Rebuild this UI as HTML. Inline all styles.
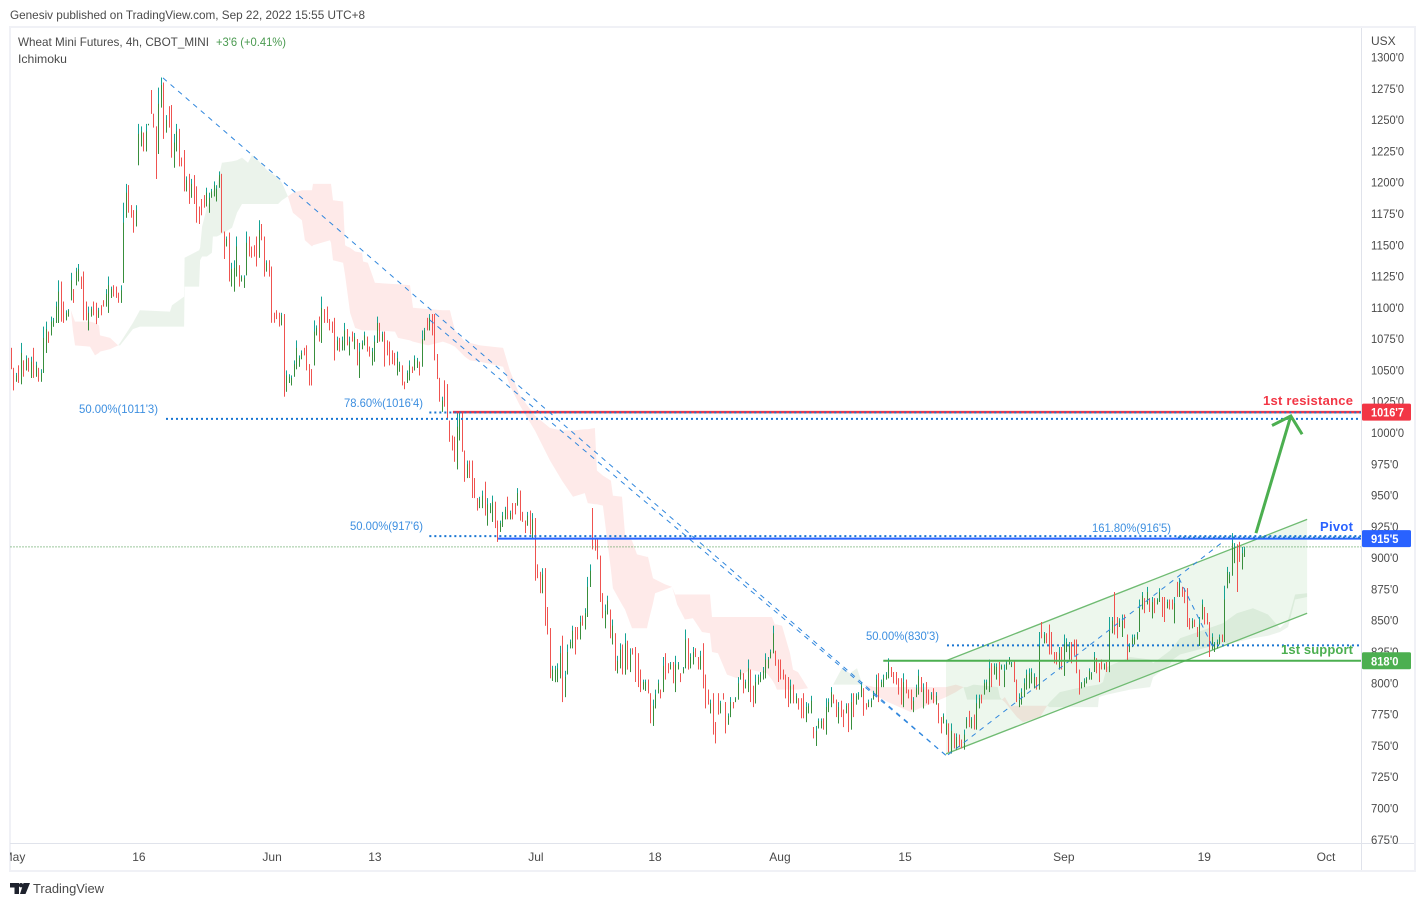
<!DOCTYPE html>
<html lang="en">
<head>
<meta charset="utf-8">
<title>Wheat Mini Futures, 4h, CBOT_MINI</title>
<style>
html,body{margin:0;padding:0;background:#fff;width:1425px;height:906px;overflow:hidden}
svg{display:block;font-family:"Liberation Sans",sans-serif}
</style>
</head>
<body>
<svg id="chart" xmlns="http://www.w3.org/2000/svg" width="1425" height="906" viewBox="0 0 1425 906">
<defs><clipPath id="plot-clip"><rect x="10" y="28" width="1351" height="815"/></clipPath><clipPath id="time-clip"><rect x="10" y="844" width="1351" height="26"/></clipPath></defs>
<rect x="0" y="0" width="1425" height="906" fill="#ffffff"/>
<text x="10" y="19" font-size="12" fill="#4a4a4a" textLength="355" lengthAdjust="spacingAndGlyphs">Genesiv published on TradingView.com, Sep 22, 2022 15:55 UTC+8</text>
<rect x="10" y="27" width="1405" height="844" fill="none" stroke="#f0f1f6" stroke-width="2"/>
<g id="cloud-layer" clip-path="url(#plot-clip)"></g>
<g id="channel-layer" clip-path="url(#plot-clip)"></g>
<g id="bar-layer" clip-path="url(#plot-clip)"></g>
<g id="annotation-layer" clip-path="url(#plot-clip)"></g>
<text x="18" y="46" font-size="12" fill="#4a4a4a" textLength="191" lengthAdjust="spacingAndGlyphs">Wheat Mini Futures, 4h, CBOT_MINI</text>
<text x="216" y="46" font-size="12" fill="#4a9a50" textLength="70" lengthAdjust="spacingAndGlyphs">+3'6 (+0.41%)</text>
<text x="18" y="63" font-size="12" fill="#4a4a4a" textLength="49" lengthAdjust="spacingAndGlyphs">Ichimoku</text>
<g font-size="12" fill="#3d8fe0">
<text x="79" y="413" textLength="79" lengthAdjust="spacingAndGlyphs">50.00%(1011'3)</text>
<text x="344" y="407" textLength="79" lengthAdjust="spacingAndGlyphs">78.60%(1016'4)</text>
<text x="350" y="530" textLength="73" lengthAdjust="spacingAndGlyphs">50.00%(917'6)</text>
<text x="1092" y="532" textLength="79" lengthAdjust="spacingAndGlyphs">161.80%(916'5)</text>
<text x="866" y="640" textLength="73" lengthAdjust="spacingAndGlyphs">50.00%(830'3)</text>
</g>
<text x="1263" y="405" font-size="13" font-weight="700" fill="#f23645" textLength="90" lengthAdjust="spacing">1st resistance</text>
<text x="1320" y="531" font-size="13" font-weight="700" fill="#2962ff" textLength="33" lengthAdjust="spacing">Pivot</text>
<text x="1281" y="654" font-size="13" font-weight="700" fill="#4caf50" textLength="72" lengthAdjust="spacing">1st support</text>
<line x1="1361.5" y1="28" x2="1361.5" y2="870" stroke="#e0e3eb" stroke-width="1"/>
<line x1="10" y1="843.5" x2="1414" y2="843.5" stroke="#e0e3eb" stroke-width="1"/>
<text x="1371" y="45" font-size="12" fill="#4a4a4a">USX</text>
<g id="price-axis"></g>
<g id="time-axis" clip-path="url(#time-clip)"></g>
<g id="price-tags"></g>
<g>
<path d="M10 883h9v11h-4.500v-6.500H10zM23.500 883h6.500l-4.500 11h-5.500z" fill="#1e222d"/>
<circle cx="21" cy="885.200" r="2.200" fill="#1e222d"/>
<text x="33" y="893" font-size="13" fill="#4a4a4a" textLength="71" lengthAdjust="spacingAndGlyphs">TradingView</text>
</g>
</svg>
<script>
const highs = [
1068,1052,1048,1054,1072,1058,1062,1060,1061,1068,
1057,1052,1051,1085,1089,1081,1093,1092,1105,1122,
1121,1105,1098,1099,1128,1115,1132,1135,1125,1129,
1105,1101,1101,1105,1104,1100,1102,1106,1115,1125,
1117,1118,1117,1112,1118,1184,1199,1198,1182,1178,
1182,1247,1245,1240,1247,1247,1274,1255,1245,1276,
1284,1280,1254,1261,1262,1239,1247,1243,1220,1226,
1205,1207,1203,1206,1197,1181,1187,1190,1196,1192,
1195,1201,1198,1209,1207,1161,1157,1160,1136,1138,
1157,1134,1126,1126,1161,1157,1149,1150,1157,1170,
1167,1157,1138,1138,1133,1096,1098,1096,1096,1095,
1050,1047,1046,1058,1074,1062,1066,1068,1070,1055,
1051,1090,1086,1093,1109,1099,1101,1091,1089,1092,
1077,1076,1077,1088,1083,1077,1081,1080,1075,1072,
1074,1081,1077,1069,1068,1078,1093,1088,1081,1081,
1074,1073,1066,1064,1065,1057,1054,1041,1050,1058,
1053,1062,1060,1057,1082,1084,1092,1095,1095,1095,
1063,1044,1029,1042,1039,1010,998,997,1016,1016,
1016,986,978,978,978,964,948,949,954,961,
948,944,950,945,930,930,937,941,949,938,
944,944,956,954,937,930,937,938,936,932,
895,889,892,892,861,844,814,814,816,830,
838,810,831,835,846,845,845,854,854,860,
885,895,940,915,915,902,872,863,870,859,
851,840,822,832,831,840,834,828,828,829,
824,811,803,803,803,792,787,795,803,795,
821,824,816,817,817,822,817,808,813,843,
836,824,829,828,821,826,832,807,795,787,
792,769,792,786,792,785,776,789,785,789,
805,811,808,803,819,811,798,807,807,809,
813,824,821,827,846,826,819,819,811,807,
805,803,799,792,788,788,792,785,784,790,
765,766,772,772,772,788,788,797,791,787,
785,786,779,784,784,792,792,792,793,801,
796,784,787,788,794,807,808,803,807,809,
820,813,809,809,804,804,808,803,795,795,
789,799,811,805,800,801,795,793,796,793,
784,773,776,771,768,768,760,760,759,755,
763,773,778,773,775,791,791,791,803,803,
819,816,816,816,817,815,815,818,821,817,
818,803,792,796,804,811,812,812,808,805,
841,849,841,840,847,841,825,825,829,829,
839,836,833,833,835,835,811,801,804,805,
812,809,825,820,816,819,816,817,853,853,
873,853,852,855,855,839,832,839,839,841,
867,873,868,877,868,869,868,868,876,869,
869,867,867,867,869,881,884,877,876,876,
852,852,851,845,853,867,861,856,849,840,
833,835,839,839,878,893,889,920,912,911,
913,909,909];
const lows = [
1051,1034,1041,1040,1039,1045,1050,1049,1044,1044,
1045,1041,1041,1048,1064,1072,1078,1085,1088,1088,
1089,1088,1090,1093,1106,1104,1118,1121,1115,1090,
1090,1082,1093,1094,1087,1092,1094,1101,1101,1096,
1108,1109,1108,1104,1104,1120,1172,1176,1172,1160,
1165,1214,1229,1225,1225,1246,1255,1244,1203,1223,
1260,1235,1240,1244,1220,1212,1225,1213,1213,1193,
1193,1183,1188,1183,1168,1167,1174,1180,1181,1176,
1188,1189,1185,1196,1160,1139,1149,1121,1117,1113,
1125,1117,1121,1116,1126,1141,1140,1141,1133,1140,
1154,1125,1129,1125,1088,1088,1091,1085,1086,1029,
1033,1040,1038,1045,1051,1053,1059,1062,1050,1038,
1038,1054,1078,1073,1072,1088,1088,1082,1080,1058,
1066,1065,1066,1066,1070,1062,1073,1067,1054,1044,
1067,1070,1065,1061,1054,1057,1072,1073,1073,1053,
1062,1054,1055,1054,1046,1049,1038,1035,1040,1042,
1048,1050,1052,1046,1053,1074,1082,1082,1078,1058,
1043,1025,1017,1021,1011,993,986,977,971,994,
985,961,964,964,948,948,938,940,940,934,
926,936,929,924,913,921,925,931,931,931,
931,935,942,930,929,920,926,919,915,882,
884,872,872,846,839,804,802,801,801,804,
785,789,807,828,828,823,835,835,846,843,
853,877,907,906,899,865,852,844,855,836,
831,810,808,812,807,807,811,809,823,801,
797,793,795,794,792,768,766,780,792,788,
793,803,808,811,800,793,811,801,808,812,
811,812,815,821,811,811,796,780,783,776,
759,752,775,776,787,760,767,773,780,785,
787,803,792,796,793,785,781,784,799,801,
803,804,812,820,824,814,801,803,803,788,
781,784,784,784,779,772,772,769,776,776,
756,750,764,764,763,759,777,781,784,773,
768,773,765,776,761,763,773,783,787,789,
774,779,781,781,787,789,785,797,797,803,
804,805,800,799,791,783,781,792,788,779,
777,789,791,793,780,784,783,787,784,783,
768,760,768,759,745,744,748,747,749,748,
747,764,765,764,763,763,780,784,791,795,
793,797,807,803,798,811,797,811,815,813,
801,785,781,783,789,795,796,800,796,795,
795,836,832,832,823,823,816,815,811,811,
806,825,819,816,822,808,791,796,797,800,
803,803,809,808,801,811,811,809,809,840,
839,836,845,837,844,818,825,829,831,835,
841,859,856,863,857,852,856,863,865,853,
849,860,859,859,848,869,869,869,864,845,
843,844,845,837,830,851,847,847,821,827,
825,828,831,833,833,876,880,886,896,873,
897,891,901];
const closes = [
1052,1035,1046,1041,1064,1046,1059,1050,1057,1045,
1054,1042,1048,1076,1083,1073,1089,1090,1101,1113,
1090,1089,1096,1098,1122,1105,1129,1131,1116,1091,
1091,1096,1099,1095,1088,1098,1095,1102,1111,1118,
1115,1110,1109,1105,1114,1168,1192,1177,1173,1161,
1178,1239,1241,1226,1241,1247,1256,1245,1204,1263,
1278,1236,1250,1245,1221,1232,1241,1214,1214,1194,
1202,1184,1199,1184,1169,1168,1175,1181,1192,1188,
1193,1198,1195,1206,1161,1140,1155,1122,1131,1132,
1149,1118,1125,1124,1152,1142,1141,1142,1134,1162,
1155,1126,1136,1126,1089,1089,1092,1086,1094,1030,
1046,1045,1044,1055,1068,1060,1064,1063,1051,1039,
1039,1081,1084,1074,1100,1089,1089,1083,1081,1059,
1074,1066,1074,1082,1071,1073,1074,1077,1055,1065,
1072,1078,1066,1062,1065,1073,1088,1074,1079,1054,
1063,1055,1056,1055,1060,1055,1039,1036,1048,1054,
1049,1059,1058,1047,1075,1082,1083,1092,1079,1059,
1044,1026,1026,1022,1012,994,987,978,1005,1011,
986,962,975,965,949,949,939,947,950,935,
943,942,945,925,914,928,934,939,932,936,
932,936,952,931,930,921,934,920,931,883,
885,873,887,847,840,805,811,811,812,824,
786,805,825,833,842,824,836,849,847,856,
877,890,915,907,900,866,853,858,866,837,
846,811,818,827,808,832,812,823,824,802,
798,794,801,801,793,769,782,791,800,789,
814,804,809,815,801,815,815,802,812,835,
812,821,825,822,812,822,797,781,784,784,
760,753,776,784,788,761,774,785,781,788,
800,809,793,801,812,786,782,801,805,807,
810,819,819,825,840,815,802,804,804,789,
782,798,785,790,780,773,773,781,782,786,
757,762,770,770,764,781,785,793,785,774,
781,774,766,782,762,785,774,790,791,798,
775,780,785,786,792,803,786,801,804,807,
816,806,801,800,792,784,801,793,789,780,
786,796,806,794,795,785,784,791,785,790,
769,761,774,768,746,762,749,757,750,749,
759,771,766,771,764,784,788,785,800,801,
812,798,814,813,799,814,810,816,820,816,
802,786,789,793,800,807,808,809,805,796,
830,837,839,833,824,824,817,816,824,812,
831,833,830,817,823,809,792,800,802,804,
810,808,821,809,802,812,815,810,842,850,
840,837,850,850,845,819,830,836,837,840,
860,870,857,873,858,865,857,867,873,854,
850,865,860,860,864,870,880,870,865,846,
844,850,846,838,847,863,848,848,822,837,
831,833,837,834,867,889,887,912,908,874,
898,904,907];

const cloudBars = [24.1,24.9,25.7,31.7,33.7,35.3,35.7,39.7,42.9,
43.7,48.8,51.6,63.6,64.4,69.2,69.4,75.2,75.6,76.4,78.3,80.3,80.7,82.3,84.3,88.3,90.3,92.3,94.7,96.3,98.7,102.3,106.7,108.2,110.6,
112.6,116.2,117.4,120.2,120.6,127.4,127.8,128.6,132.6,133.4,134.2,135.4,137.4,140.2,140.6,142.5,145.3,153.3,154.5,159.3,160.5,166.5,172.4,175.2,177.2,181.2,183.2,187.2,196.4,199.1,203.1,209.1,215.1,219.9,224.3,229,230.2,233,233.8,236.2,239.4,240.2,243.8,245,247.8,249.8,253.8,254.2,256.2,257,261,263.8,265,265.8,268.9,272.1,275.7,278.9,279.7,282.1,285.7,289.7,294.8,301.6,303.6,304.8,305.6,307.6,310.8,312,314,318,326.8,
328,331.5,334.7,337.5,339.5,340.3,
344.4,349.9,359,365.9,373,376.9,380,
381.4,384,393.7,394.5,395.3,
396.5,398.5,401.3,403.7,410.5,413.3,
414.4,418.4,425.2,433.6,434,435.6,437.2,446.4,454.4,455.6,462.3,463.5,466.3,483.4,489,495.4,501.4,506.2,509.4,512.2,517];
const spanA = [1098,1082,1070,1069,1062,1064,1065,1067,1070,
1072,1088,1098,1097,1102,1109,1140,1146,1148,1165,1180,1190,1193,1197,1216,1217,1218,1220,1216,1222,1218,1210,1204,1200,1189,
1176,1170,1154,1149,1150,1154,1152,1138,1136,1126,1114,1096,1084,1082,1082,1082,1082,1081,1076,1074,1073,1070,1073,1071,1069,1061,1058,1057,1053,1038,1022,1002,978,962,949,952,944,943,943,942,891,876,863,859,844,844,844,848,864,872,875,877,869,863,851,852,841,840,825,824,807,804,811,808,803,799,795,795,795,795,795,796,797,
799,812,808,812,800,799,
791,785,777,783,789,793,797,
797,799,797,789,787,
785,780,773,769,773,782,
785,793,796,799,799,801,813,821,819,816,826,829,836,848,856,860,855,844,851,871,872];
const spanB = [1098,1093.5,1089,1089,1088,1086,1078,1076,1070,
1070,1083,1085,1085,1085,1085,1117,1117,1138,1141,1141,1144,1157,1157,1159,1164,1176,1183,1183,1183,1183,1183,1183,1186,1189,
1192,1194,1194,1194,1199,1199,1199,1186,1185,1150,1149,1148,1145,1144,1137,1136,1120,1119,1119,1118,1100,1099,1098,1098,1082,1073,1072,1070,1068,1050,1030,1014,1004,1002,1002,1003,1003,1004,970,966,962,950,949,919,914,903,901,901,884,883,879,877,871,871,871,871,871,871,853,853,853,853,853,853,853,847,847,846,824,811,809,796,797,
799,799,799,799,799,799,
797,797,797,797,797,799,797,
787,787,787,787,787,
789,782,782,782,782,782,
781,781,781,781,789,790,791,795,797,805,815,819,823,832,833,836,838,841,845,867,869];

const priceTicks = [1300,1275,1250,1225,1200,1175,1150,1125,1100,1075,1050,1025,1000,975,950,925,900,875,850,825,800,775,750,725,700,675];
const timeTickLabels = ['May','16','Jun','13','Jul','18','Aug','15','Sep','19','Oct'];
const timeTickBars = [1.4,51.2,104.3,145.3,209.5,257,306.8,356.7,420,476,524.5];

const levelNames = ['last-price-line','resistance-line','pivot-line','support-line','fib-level-1011','fib-level-1016','fib-level-917','fib-level-916','fib-level-830'];
const levelPrices = [909,1016.7,915.6,818,1011.3,1016.4,917.6,916.5,830.3];
const levelStartBars = [0,176.4,194.4,348,62,167,167,465.5,373.4];
const levelStyles = ['last','red','blue','green','dot','dot','dot','dot','dot'];

const trendNames = ['fib-trend-main-a','fib-trend-main-b','fib-trend-up','fib-trend-pullback'];
const trendBars1 = [60.8,167.2,373.8,465.9];
const trendPrices1 = [1283.7,1090.3,742.8,884];
const trendBars2 = [373.8,373.8,483.4,479.4];
const trendPrices2 = [741,741,913,829];

const channelBars = [373,517];
const channelUpper = [818,931];
const channelLower = [743.6,856];

const arrowBars = [496.6,510.5,503,515];
const arrowPrices = [920,1013.6,1006,999];

const tagLabels = ["1016'7","915'5","818'0"];
const tagPrices = [1016.7,915.6,818];
const tagColors = ['#f23645','#2962ff','#4caf50'];
const tagNames = ['resistance-price-tag','pivot-price-tag','support-price-tag'];

const NS = 'http://www.w3.org/2000/svg';
const xScale = b => 10.5 + 2.508 * b;
const yScale = p => 433 + (1000 - p) * 1.2516;
function make(tag, attrs, parent) {
  const el = document.createElementNS(NS, tag);
  for (const k in attrs) el.setAttribute(k, attrs[k]);
  parent.appendChild(el);
  return el;
}
const fmtTick = v => v + "'0";

/* Ichimoku cloud: one polygon per run where span A and B keep their order */
const cloudLayer = document.getElementById('cloud-layer');
let runStart = 0, runSign = 0;
function flushRun(a, b, sign) {
  if (b <= a || !sign) return;
  let pts = [];
  for (let i = a; i <= b; i++) pts.push(xScale(cloudBars[i]).toFixed(1) + ',' + yScale(spanA[i]).toFixed(1));
  for (let i = b; i >= a; i--) pts.push(xScale(cloudBars[i]).toFixed(1) + ',' + yScale(spanB[i]).toFixed(1));
  const poly = make('polygon', {points: pts.join(' '), fill: sign > 0 ? '#388e3c' : '#f44336', 'fill-opacity': sign > 0 ? 0.1 : 0.11}, cloudLayer);
  
  
}
for (let i = 0; i < cloudBars.length; i++) {
  const s = Math.sign(spanA[i] - spanB[i]);
  if (s !== 0 && runSign !== 0 && s !== runSign) {
    flushRun(runStart, i - 1, runSign);
    runStart = i - 1;
    runSign = s;
  } else if (s !== 0) {
    runSign = s;
  }
}
flushRun(runStart, cloudBars.length - 1, runSign);

/* Parallel channel */
const channelLayer = document.getElementById('channel-layer');
const channelPts = [
  [channelBars[0], channelUpper[0]], [channelBars[1], channelUpper[1]],
  [channelBars[1], channelLower[1]], [channelBars[0], channelLower[0]]
].map(p => xScale(p[0]).toFixed(1) + ',' + yScale(p[1]).toFixed(1)).join(' ');
const channelFill = make('polygon', {points: channelPts, fill: '#4caf50', 'fill-opacity': 0.1}, channelLayer);


const channelTop = make('line', {x1: xScale(channelBars[0]), y1: yScale(channelUpper[0]), x2: xScale(channelBars[1]), y2: yScale(channelUpper[1]), stroke: '#6fbb72', 'stroke-width': 1.3}, channelLayer);


const channelBottom = make('line', {x1: xScale(channelBars[0]), y1: yScale(channelLower[0]), x2: xScale(channelBars[1]), y2: yScale(channelLower[1]), stroke: '#6fbb72', 'stroke-width': 1.3}, channelLayer);



/* Candles: the close's side of the range gives the direction */
const barLayer = document.getElementById('bar-layer');
for (let i = 0; i < highs.length; i++) {
  const rising = closes[i] >= (highs[i] + lows[i]) / 2;
  const open = rising ? lows[i] : highs[i];
  const x = Math.round(xScale(i));
  const wick = make('rect', {x: x, y: yScale(highs[i]).toFixed(1), width: 1, height: Math.max(1, yScale(lows[i]) - yScale(highs[i])).toFixed(1), fill: rising ? '#14a394' : '#ef5350'}, barLayer);
  
  
  const top = yScale(Math.max(open, closes[i])), bot = yScale(Math.min(open, closes[i]));
  const body = make('rect', {x: x, y: top.toFixed(1), width: 1, height: Math.max(1, bot - top).toFixed(1), fill: rising ? '#388e3c' : '#ef5350'}, barLayer);
  
  
}

/* Annotations */
const annotationLayer = document.getElementById('annotation-layer');
for (let i = 0; i < trendNames.length; i++) {
  const t = make('line', {x1: xScale(trendBars1[i]), y1: yScale(trendPrices1[i]), x2: xScale(trendBars2[i]), y2: yScale(trendPrices2[i]), stroke: '#2f86dd', 'stroke-width': 1, 'stroke-dasharray': '5 5'}, annotationLayer);
  
  
}
const levelLook = {
  dot: {stroke: '#1976d2', w: 2, dash: '2 3'},
  last: {stroke: '#388e3c', w: 1, dash: '1 2'},
  red: {stroke: '#f23645', w: 2.5, dash: ''},
  blue: {stroke: '#2962ff', w: 2, dash: ''},
  green: {stroke: '#4caf50', w: 2, dash: ''}
};
for (let i = 0; i < levelPrices.length; i++) {
  const look = levelLook[levelStyles[i]];
  const y = yScale(levelPrices[i]);
  const l = make('line', {x1: xScale(levelStartBars[i]), y1: y, x2: 1361, y2: y, stroke: look.stroke, 'stroke-width': look.w}, annotationLayer);
  if (look.dash) l.setAttribute('stroke-dasharray', look.dash);
  
  
}
const ax = arrowBars.map(xScale), ay = arrowPrices.map(yScale);
const arrow = make('path', {d: 'M' + ax[0] + ' ' + ay[0] + 'L' + ax[1] + ' ' + ay[1] + 'M' + ax[2] + ' ' + ay[2] + 'L' + ax[1] + ' ' + ay[1] + 'L' + ax[3] + ' ' + ay[3], fill: 'none', stroke: '#4caf50', 'stroke-width': 3}, annotationLayer);



/* Axes */
const priceAxis = document.getElementById('price-axis');
priceTicks.forEach(v => {
  const t = make('text', {x: 1371, y: yScale(v) + 4, 'font-size': 12, fill: '#4a4a4a', textLength: v >= 1000 ? 33 : 27.5, lengthAdjust: 'spacingAndGlyphs'}, priceAxis);
  
  
  t.textContent = fmtTick(v);
});
const timeAxis = document.getElementById('time-axis');
timeTickLabels.forEach((lab, i) => {
  const t = make('text', {x: xScale(timeTickBars[i]), y: 861, 'font-size': 12, fill: '#4a4a4a', 'text-anchor': 'middle'}, timeAxis);
  
  
  t.textContent = lab;
});
const tagsLayer = document.getElementById('price-tags');
tagLabels.forEach((lab, i) => {
  const y = yScale(tagPrices[i]);
  const box = make('rect', {x: 1362, y: y - 8.5, width: 49, height: 17, rx: 1.5, fill: tagColors[i]}, tagsLayer);
  
  
  const t = make('text', {x: 1371, y: y + 4.5, 'font-size': 12, 'font-weight': 700, fill: '#ffffff', textLength: lab.length > 5 ? 33 : 27.5, lengthAdjust: 'spacingAndGlyphs'}, tagsLayer);
  
  
  t.textContent = lab;
});
</script>
</body>
</html>
